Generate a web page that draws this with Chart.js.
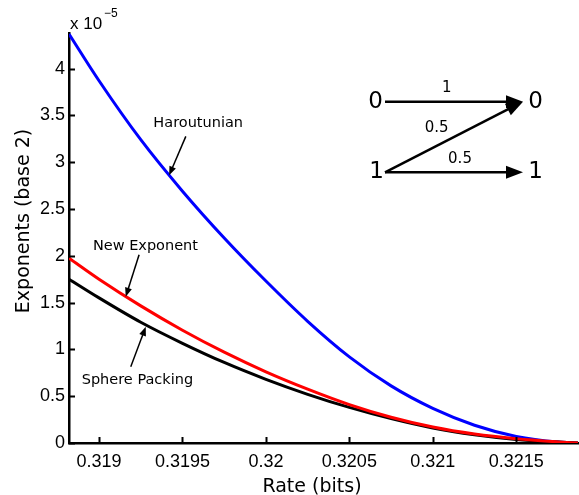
<!DOCTYPE html>
<html>
<head>
<meta charset="utf-8">
<script src="https://cdn.jsdelivr.net/npm/chart.js@4.4.1/dist/chart.umd.min.js"></script>
<style>
  html, body { margin: 0; padding: 0; background: #fff; }
  #grafik { display: block; }
</style>
</head>
<body>
<canvas id="grafik" width="579" height="495"></canvas>
<script>
// data (exponent values are in units of 1e-5)
const rate = [0.31882, 0.319, 0.31925, 0.3195, 0.31975, 0.32, 0.32025, 0.3205, 0.32075, 0.321, 0.32125, 0.3215, 0.32175, 0.32187]
const haroutunian = [4.37, 3.87, 3.24, 2.69, 2.19, 1.73, 1.30, 0.92, 0.61, 0.37, 0.19, 0.07, 0.01, 0]
const newExponent = [1.975, 1.75, 1.465, 1.205, 0.97, 0.76, 0.575, 0.41, 0.275, 0.17, 0.095, 0.045, 0.012, 0]
const spherePacking = [1.75, 1.55, 1.29, 1.065, 0.86, 0.68, 0.52, 0.38, 0.26, 0.16, 0.088, 0.038, 0.01, 0]

const xTicks = [0.319, 0.3195, 0.32, 0.3205, 0.321, 0.3215]
const xTickLabels = ['0.319', '0.3195', '0.32', '0.3205', '0.321', '0.3215']
const yTicks = [0, 0.5, 1, 1.5, 2, 2.5, 3, 3.5, 4]
const yTickLabels = ['0', '0.5', '1', '1.5', '2', '2.5', '3', '3.5', '4']

const toPoints = (ys) => rate.map((x, i) => ({ x: x, y: ys[i] }))

// filled arrow head helper
const arrowHead = (ctx, x1, y1, x2, y2, len, half) => {
    const a = Math.atan2(y2 - y1, x2 - x1)
    ctx.beginPath()
    ctx.moveTo(x2, y2)
    ctx.lineTo(x2 - len * Math.cos(a) + half * Math.sin(a), y2 - len * Math.sin(a) - half * Math.cos(a))
    ctx.lineTo(x2 - len * Math.cos(a) - half * Math.sin(a), y2 - len * Math.sin(a) + half * Math.cos(a))
    ctx.closePath()
    ctx.fill()
}

const arrow = (ctx, x1, y1, x2, y2, width, len, half) => {
    const a = Math.atan2(y2 - y1, x2 - x1)
    ctx.lineWidth = width
    ctx.beginPath()
    ctx.moveTo(x1, y1)
    ctx.lineTo(x2 - (len - 1) * Math.cos(a), y2 - (len - 1) * Math.sin(a))
    ctx.stroke()
    arrowHead(ctx, x1, y1, x2, y2, len, half)
}

// curve labels: text centre, arrow tail and arrow tip in data units
const curveLabels = [
    { text: 'Haroutunian', tx: 0.319594, ty: 3.42, ax: 0.31952, ay: 3.276, bx: 0.31942, by: 2.86 },
    { text: 'New Exponent', tx: 0.319278, ty: 2.10, ax: 0.31924, ay: 2.01, bx: 0.31916, by: 1.563 },
    { text: 'Sphere Packing', tx: 0.31923, ty: 0.675, ax: 0.31919, ay: 0.814, bx: 0.31928, by: 1.242 },
]

const hiasan = {
    id: 'hiasan',
    afterDraw(chart) {
        const ctx = chart.ctx
        const xs = chart.scales.x
        const ys = chart.scales.y
        const area = chart.chartArea
        ctx.save()
        ctx.strokeStyle = '#000'
        ctx.fillStyle = '#000'

        // inward tick marks
        ctx.lineWidth = 2
        ctx.beginPath()
        xTicks.forEach(v => {
            const px = Math.round(xs.getPixelForValue(v)) + 0.5
            ctx.moveTo(px, area.bottom)
            ctx.lineTo(px, area.bottom - 6)
        })
        yTicks.forEach(v => {
            const py = Math.round(ys.getPixelForValue(v)) + 0.5
            ctx.moveTo(area.left, py)
            ctx.lineTo(area.left + 6, py)
        })
        ctx.stroke()

        // exponent multiplier
        ctx.font = '17px "Liberation Sans", Arial, sans-serif'
        ctx.textAlign = 'left'
        ctx.textBaseline = 'middle'
        ctx.fillText('x 10', area.left + 1, 24)
        ctx.font = '12px "Liberation Sans", Arial, sans-serif'
        ctx.fillText('\u22125', area.left + 35, 14)

        // axis titles
        ctx.font = '19px "DejaVu Sans", sans-serif'
        ctx.textAlign = 'center'
        ctx.fillText('Rate (bits)', 312, 487)
        ctx.save()
        ctx.translate(24, 221)
        ctx.rotate(-Math.PI / 2)
        ctx.fillText('Exponents (base 2)', 0, 0)
        ctx.restore()

        // curve labels with arrows
        ctx.font = '14.5px "DejaVu Sans", sans-serif'
        curveLabels.forEach(l => {
            ctx.fillText(l.text, xs.getPixelForValue(l.tx), ys.getPixelForValue(l.ty))
            arrow(ctx, xs.getPixelForValue(l.ax), ys.getPixelForValue(l.ay),
                xs.getPixelForValue(l.bx), ys.getPixelForValue(l.by), 1.5, 9, 3.5)
        })

        // channel diagram
        const kiri = 385, kanan = 523, atas = 101.7, bawah = 172.3
        arrow(ctx, kiri, atas, kanan, atas, 2.5, 17, 6.5)
        arrow(ctx, kiri, bawah, kanan, atas, 2.5, 17, 6.5)
        arrow(ctx, kiri, bawah, kanan, bawah, 2.5, 17, 6.5)
        ctx.font = '23px "DejaVu Sans", sans-serif'
        ctx.fillText('0', 375.5, atas)
        ctx.fillText('0', 535.5, atas)
        ctx.fillText('1', 376.5, bawah)
        ctx.fillText('1', 535.5, bawah)
        ctx.font = '15px "DejaVu Sans", sans-serif'
        ctx.fillText('1', 446.7, 88.5)
        ctx.fillText('0.5', 436.7, 128.5)
        ctx.fillText('0.5', 460, 159)
        ctx.restore()
    }
}

const grafik = new Chart(document.getElementById('grafik').getContext('2d'), {
    type: 'line',
    data: {
        datasets: [{
            label: 'New Exponent',
            data: toPoints(newExponent),
            borderColor: '#ff0000',
        }, {
            label: 'Sphere Packing',
            data: toPoints(spherePacking),
            borderColor: '#000000',
        }, {
            label: 'Haroutunian',
            data: toPoints(haroutunian),
            borderColor: '#0000ff',
        }]
    },
    options: {
        responsive: false,
        animation: false,
        devicePixelRatio: 1,
        layout: { padding: { top: 33, right: 1, left: 0, bottom: 0 } },
        elements: {
            point: { radius: 0 },
            line: { borderWidth: 3, cubicInterpolationMode: 'monotone', fill: false }
        },
        plugins: {
            legend: { display: false },
            tooltip: { enabled: false }
        },
        scales: {
            x: {
                type: 'linear',
                min: 0.31882,
                max: 0.32187,
                afterBuildTicks: (scale) => { scale.ticks = xTicks.map(v => ({ value: v })) },
                afterFit: (scale) => { scale.height = 52 },
                grid: { display: false, drawTicks: false, tickLength: 0 },
                border: { display: true, color: '#000', width: 2.5 },
                ticks: {
                    padding: 8,
                    color: '#000',
                    maxRotation: 0,
                    autoSkip: false,
                    font: { family: '"Liberation Sans", Arial, sans-serif', size: 18 },
                    callback: (v, i) => xTickLabels[i]
                }
            },
            y: {
                min: 0,
                max: 4.38,
                afterBuildTicks: (scale) => { scale.ticks = yTicks.map(v => ({ value: v })) },
                afterFit: (scale) => { scale.width = 69 },
                grid: { display: false, drawTicks: false, tickLength: 0 },
                border: { display: true, color: '#000', width: 2.5 },
                ticks: {
                    padding: 4,
                    color: '#000',
                    autoSkip: false,
                    font: { family: '"Liberation Sans", Arial, sans-serif', size: 18 },
                    callback: (v, i) => yTickLabels[i]
                }
            }
        }
    },
    plugins: [hiasan]
})
</script>
</body>
</html>
